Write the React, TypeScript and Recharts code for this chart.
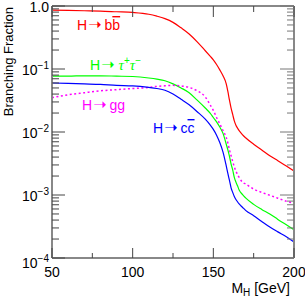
import React from 'react';
import { LineChart, Line, XAxis, YAxis } from 'recharts';

// Higgs mass grid (GeV) and branching fractions
const masses = [50, 60, 70, 80, 90, 100, 110, 115, 120, 125, 130, 135, 140, 145, 148, 150, 152, 154, 156, 158, 159, 160, 161, 162, 163, 164, 165, 166, 168, 170, 175, 180, 185, 190, 195, 200];
const brBB = [0.86, 0.85, 0.84, 0.83, 0.81, 0.79, 0.74, 0.69, 0.63, 0.55, 0.45, 0.36, 0.27, 0.195, 0.16, 0.14, 0.118, 0.097, 0.078, 0.058, 0.044, 0.032, 0.024, 0.019, 0.015, 0.0128, 0.0115, 0.0105, 0.0091, 0.0081, 0.0064, 0.0052, 0.0042, 0.0035, 0.0029, 0.0024];
const brTauTau = [0.077, 0.077, 0.078, 0.078, 0.077, 0.076, 0.072, 0.069, 0.065, 0.058, 0.05, 0.042, 0.032, 0.024, 0.02, 0.017, 0.0145, 0.012, 0.0095, 0.0064, 0.0052, 0.0041, 0.0031, 0.0025, 0.0019, 0.0016, 0.0014, 0.0012, 0.00102, 0.0009, 0.00071, 0.00059, 0.0005, 0.00041, 0.00034, 0.00028];
const brGG = [0.035, 0.039, 0.042, 0.045, 0.047, 0.049, 0.051, 0.053, 0.054, 0.055, 0.054, 0.051, 0.045, 0.036, 0.027, 0.022, 0.017, 0.0135, 0.0105, 0.0082, 0.0067, 0.0052, 0.0042, 0.0034, 0.0028, 0.0024, 0.0021, 0.0019, 0.0016, 0.0015, 0.00124, 0.0011, 0.00099, 0.00089, 0.0008, 0.00074];
const brCC = [0.06, 0.059, 0.058, 0.057, 0.055, 0.054, 0.051, 0.049, 0.046, 0.04, 0.033, 0.027, 0.021, 0.016, 0.013, 0.011, 0.0089, 0.0068, 0.0048, 0.0029, 0.0022, 0.0017, 0.0013, 0.0011, 0.00095, 0.00085, 0.00078, 0.00072, 0.00064, 0.00057, 0.00047, 0.00038, 0.00031, 0.00026, 0.00022, 0.00018];

const xTicks = [50, 75, 100, 125, 150, 175, 200];
const xLabels = [50, 100, 150, 200];
const yDecades = [1e-4, 1e-3, 1e-2, 1e-1, 1];
const yMinorSteps = [2, 3, 4, 5, 6, 7, 8, 9];

const W = 305;
const H = 302;
// each axis takes 1px, so the plot area runs from 52 to 294 and 6 to 258
const MARGIN = { top: 5, right: 10, bottom: 43, left: 51 };
const PLOT_LEFT = MARGIN.left + 1;
const PLOT_RIGHT = W - MARGIN.right - 1;
const PLOT_TOP = MARGIN.top + 1;
const PLOT_BOTTOM = H - MARGIN.bottom - 1;
const FONT = '"Liberation Sans", Arial, Helvetica, sans-serif';
const GREEK = '"Liberation Serif", "Times New Roman", serif';
const ARROW_FONT = '"DejaVu Sans", sans-serif';
const TICK_COLOR = '#444';
const FRAME = { stroke: '#888', strokeWidth: 2 };

const yTicks = [
  ...yDecades.slice(0, -1).flatMap((d) => [d, ...yMinorSteps.map((k) => k * d)]),
  1,
];

const rows = masses.map((m, i) => ({
  m,
  bb: brBB[i],
  tau: brTauTau[i],
  gg: brGG[i],
  cc: brCC[i],
}));

const isDecade = (v: number) => {
  const l = Math.log10(v);
  return Math.abs(l - Math.round(l)) < 1e-6;
};

const LeftTick = (props: any) => {
  const { y, payload } = props;
  const v = payload.value;
  const major = isDecade(v);
  const exp = Math.round(Math.log10(v));
  const by = v === yDecades[0] ? y + 10 : y + 5.5;
  return (
    <g>
      <line x1={PLOT_LEFT} x2={PLOT_LEFT + (major ? 13 : 7)} y1={y} y2={y} stroke={TICK_COLOR} strokeWidth={1} />
      {major && (
        <text x={PLOT_LEFT - 3} y={by} textAnchor="end" fontSize={14} fontFamily={FONT} fill="#000">
          {exp === 0 ? (
            '1.0'
          ) : (
            <>
              <tspan>10</tspan>
              <tspan dy={-6} fontSize={10}>{'\u2212' + Math.abs(exp)}</tspan>
            </>
          )}
        </text>
      )}
    </g>
  );
};

const RightTick = (props: any) => {
  const { y, payload } = props;
  const major = isDecade(payload.value);
  return <line x1={PLOT_RIGHT} x2={PLOT_RIGHT - (major ? 14 : 7)} y1={y} y2={y} stroke="#777" strokeWidth={1} />;
};

const BottomTick = (props: any) => {
  const { x, payload } = props;
  const v = payload.value;
  const major = xLabels.includes(v);
  return (
    <g>
      <line x1={x} x2={x} y1={PLOT_BOTTOM} y2={PLOT_BOTTOM - (major ? 10 : 5)} stroke={TICK_COLOR} strokeWidth={1} />
      {major && (
        <text x={x} y={PLOT_BOTTOM + 18.5} textAnchor="middle" fontSize={14} fontFamily={FONT} fill="#000">
          {v}
        </text>
      )}
    </g>
  );
};

const TopTick = (props: any) => {
  const { x, payload } = props;
  const major = xLabels.includes(payload.value);
  return <line x1={x} x2={x} y1={PLOT_TOP} y2={PLOT_TOP + (major ? 11 : 6)} stroke={TICK_COLOR} strokeWidth={1} />;
};

const Arrow = () => (
  <tspan fontFamily={ARROW_FONT} fontSize={16} dx={1}>
    {'\u279D'}
  </tspan>
);

const Annotations = () => (
  <svg width={W} height={H} style={{ position: 'absolute', left: 0, top: 0, pointerEvents: 'none' }} fontFamily={FONT} fontSize={14}>
    <text x={0} y={0} transform="translate(12.7 7) rotate(-90)" fontSize={13} fill="#000" textAnchor="end">
      Branching Fraction
    </text>
    <text x={290} y={293} textAnchor="end" fontSize={14} fill="#000">
      M<tspan dy={3} fontSize={10}>H</tspan>
      <tspan dy={-3}> [GeV]</tspan>
    </text>
    <text x={77} y={30} fill="#ff0000">
      H<Arrow />
      <tspan dx={3}>b</tspan>
      <tspan style={{ textDecoration: 'overline' }}>b</tspan>
    </text>
    <text x={90} y={70} fill="#00ff00">
      H<Arrow />
      <tspan dx={4} fontFamily={GREEK} fontStyle="italic" fontSize={15}>τ</tspan>
      <tspan dy={-6} fontSize={10}>+</tspan>
      <tspan dy={6} fontFamily={GREEK} fontStyle="italic" fontSize={15}>τ</tspan>
      <tspan dy={-6} fontSize={10}>{'\u2212'}</tspan>
    </text>
    <text x={82} y={110} fill="#ff00ff">
      H<Arrow />
      <tspan dx={3}>gg</tspan>
    </text>
    <text x={153} y={133} fill="#0000ff">
      H<Arrow />
      <tspan dx={3}>c</tspan>
      <tspan style={{ textDecoration: 'overline' }}>c</tspan>
    </text>
  </svg>
);

export default function App() {
  return (
    <div style={{ position: 'absolute', left: 0, top: 0, width: W, height: H, background: '#fff' }}>
      <LineChart width={W} height={H} data={rows} margin={MARGIN}>
        <XAxis
          xAxisId="b"
          dataKey="m"
          type="number"
          domain={[50, 200]}
          ticks={xTicks}
          interval={0}
          height={1}
          tickSize={0}
          tickMargin={0}
          allowDataOverflow
          axisLine={FRAME}
          tickLine={false}
          tick={BottomTick}
        />
        <XAxis
          xAxisId="t"
          orientation="top"
          dataKey="m"
          type="number"
          domain={[50, 200]}
          ticks={xTicks}
          interval={0}
          height={1}
          tickSize={0}
          tickMargin={0}
          allowDataOverflow
          axisLine={FRAME}
          tickLine={false}
          tick={TopTick}
        />
        <YAxis
          yAxisId="l"
          type="number"
          scale="log"
          domain={[1e-4, 1]}
          ticks={yTicks}
          interval={0}
          width={1}
          tickSize={0}
          tickMargin={0}
          allowDataOverflow
          axisLine={FRAME}
          tickLine={false}
          tick={LeftTick}
        />
        <YAxis
          yAxisId="r"
          orientation="right"
          type="number"
          scale="log"
          domain={[1e-4, 1]}
          ticks={yTicks}
          interval={0}
          width={1}
          tickSize={0}
          tickMargin={0}
          allowDataOverflow
          axisLine={FRAME}
          tickLine={false}
          tick={RightTick}
        />
        <Line xAxisId="b" yAxisId="l" type="monotone" dataKey="bb" stroke="#ff0000" strokeWidth={1.2} dot={false} isAnimationActive={false} />
        <Line xAxisId="b" yAxisId="l" type="monotone" dataKey="tau" stroke="#00ff00" strokeWidth={1.2} dot={false} isAnimationActive={false} />
        <Line xAxisId="b" yAxisId="l" type="monotone" dataKey="gg" stroke="#ff00ff" strokeWidth={1.5} strokeDasharray="2 2.5" dot={false} isAnimationActive={false} />
        <Line xAxisId="b" yAxisId="l" type="monotone" dataKey="cc" stroke="#0000ff" strokeWidth={1.2} dot={false} isAnimationActive={false} />
      </LineChart>
      <Annotations />
    </div>
  );
}
